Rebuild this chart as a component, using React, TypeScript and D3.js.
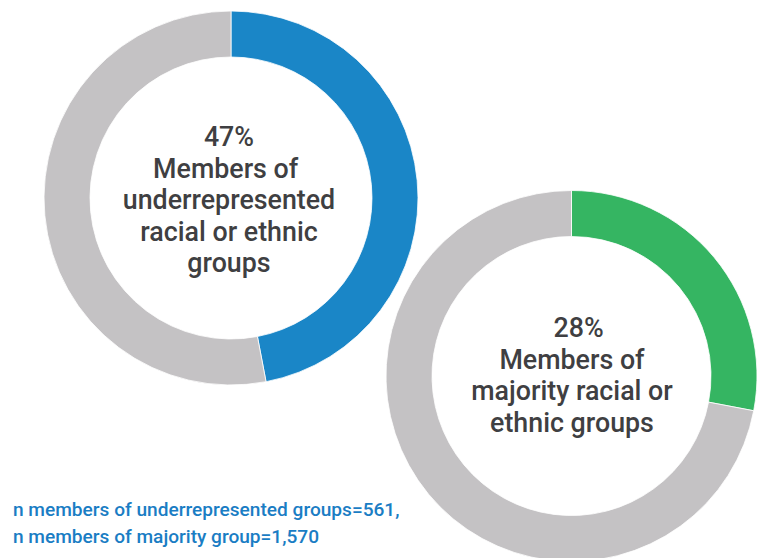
import React from "react";
import * as d3 from "d3";

const percentages = [47, 28];
const highlightColors = ["#1a86c7", "#35b562"];
const restColor = "#c4c2c4";
const labelLines = [
  ["47%", "Members of ", "underrepresented", "racial or ethnic", "groups"],
  ["  28%", "Members of", "majority racial or", "ethnic groups"],
];
const footnotes = [
  "n members of underrepresented groups=561,",
  "n members of majority group=1,570",
];

const W = 764;
const H = 558;
const layout = [
  { cx: 231, cy: 198, r: 187, textX: 229, firstBaseline: 146 },
  { cx: 571.5, cy: 376, r: 185.5, textX: 572, firstBaseline: 337 },
];
const THICK = 46;
const LINE_H = 31.5;

export default function App() {
  const pie = d3
    .pie<number>()
    .sort(null)
    .value((d) => d);

  return (
    <svg
      width={W}
      height={H}
      style={{ position: "absolute", left: 0, top: 0, background: "#fff" }}
      fontFamily="Roboto, 'Noto Sans', sans-serif"
    >
      {percentages.map((p, i) => {
        const L = layout[i];
        const arc = d3
          .arc<d3.PieArcDatum<number>>()
          .innerRadius(L.r - THICK)
          .outerRadius(L.r);
        const arcs = pie([p, 100 - p]);
        return (
          <g key={i}>
            <g transform={`translate(${L.cx},${L.cy})`}>
              {arcs.map((a, j) => (
                <path
                  key={j}
                  d={arc(a) || ""}
                  fill={j === 0 ? highlightColors[i] : restColor}
                  stroke="#fff"
                  strokeWidth={0.8}
                />
              ))}
            </g>
            <text
              fontSize={26.8}
              fontWeight={500}
              fill="#3f3f42"
              textAnchor="middle"
              style={{ whiteSpace: "pre" }}
            >
              {labelLines[i].map((line, k) => (
                <tspan key={k} x={L.textX} y={L.firstBaseline + k * LINE_H}>
                  {line}
                </tspan>
              ))}
            </text>
          </g>
        );
      })}
      <text fontSize={19.1} fontWeight={500} fill="#1a7dc4">
        {footnotes.map((f, k) => (
          <tspan key={k} x={13} y={516 + k * 27}>
            {f}
          </tspan>
        ))}
      </text>
    </svg>
  );
}
